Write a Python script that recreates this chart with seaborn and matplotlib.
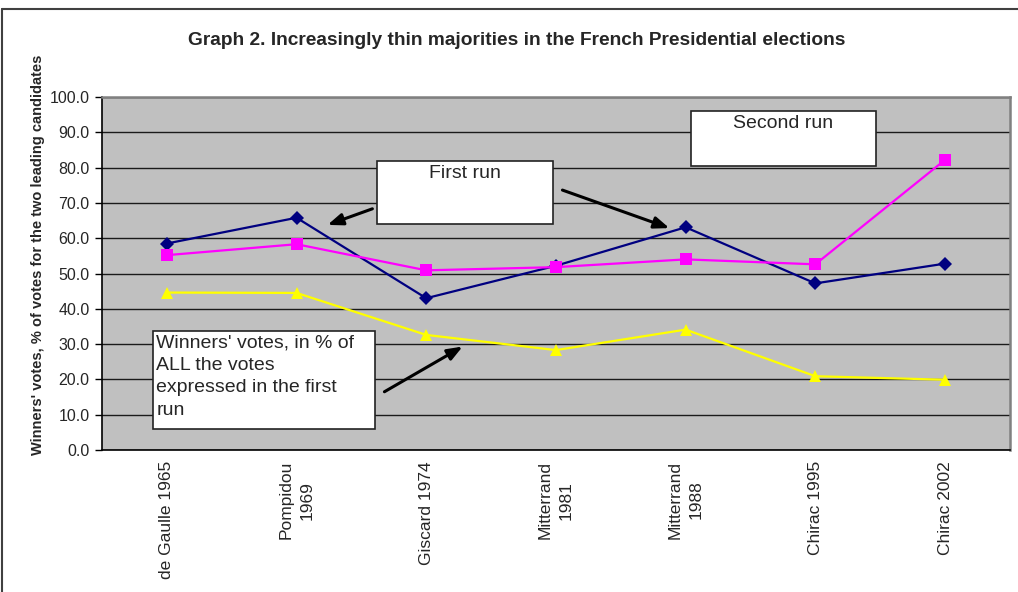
import numpy as np
import pandas as pd
import seaborn as sns
import matplotlib.pyplot as plt
from matplotlib.patches import Rectangle
from matplotlib.lines import Line2D

sns.set_style('white')
plt.rcParams['font.family'] = ['Liberation Sans', 'DejaVu Sans']

candidates = ['de Gaulle 1965', 'Pompidou\n1969', 'Giscard 1974', 'Mitterrand\n1981',
              'Mitterrand\n1988', 'Chirac 1995', 'Chirac 2002']
first_run = [58.5, 65.8, 43.0, 52.2, 63.1, 47.2, 52.8]
second_run = [55.2, 58.3, 50.9, 51.8, 54.0, 52.6, 82.2]
all_votes = [44.6, 44.5, 32.6, 28.3, 34.1, 20.9, 19.9]
yticks = np.arange(0, 101, 10)

df = pd.DataFrame({'pos': range(len(candidates)), 'first': first_run,
                   'second': second_run, 'all': all_votes})

fig = plt.figure(figsize=(10.18, 5.92), dpi=100)
ax = fig.add_axes([0.1002, 0.2399, 0.8918, 0.5962])
ax.set_facecolor('#C0C0C0')

sns.lineplot(data=df, x='pos', y='first', ax=ax, color='#000080', lw=1.6,
             marker='D', markersize=7, markeredgewidth=0)
sns.lineplot(data=df, x='pos', y='second', ax=ax, color='#FF00FF', lw=1.6,
             marker='s', markersize=8, markeredgewidth=0)
sns.lineplot(data=df, x='pos', y='all', ax=ax, color='#FFFF00', lw=1.6,
             marker='^', markersize=8.5, markeredgewidth=0)

ax.set_xlim(-0.5, len(candidates) - 0.5)
ax.set_ylim(0, 100)
ax.set_yticks(yticks)
ax.set_yticklabels([f'{v:.1f}' for v in yticks], fontsize=11.5)
ax.yaxis.grid(True, color='#1a1a1a', lw=1)
ax.set_axisbelow(True)
ax.set_xticks(range(len(candidates)))
ax.set_xticklabels(candidates, rotation=90, fontsize=12.5, va='top', ha='center',
                   multialignment='center', linespacing=1.5)
ax.set_xticks(np.arange(-0.5, len(candidates)), minor=True)
ax.tick_params(axis='x', which='major', length=0, pad=8)
ax.tick_params(axis='x', which='minor', length=5, width=1, direction='out', color='black')
ax.tick_params(axis='y', length=5, width=1, direction='out', color='black', pad=4, left=True)
ax.set_xlabel('')
ax.set_ylabel('')
for side in ['left', 'bottom']:
    ax.spines[side].set_color('black')
    ax.spines[side].set_linewidth(1.2)
for side in ['top', 'right']:
    ax.spines[side].set_color('#808080')
    ax.spines[side].set_linewidth(1.8)

# annotation boxes
box_kw = dict(facecolor='white', edgecolor='#222222', lw=1.2, zorder=5)
ax.add_patch(Rectangle((1.62, 64.0), 1.36, 17.9, **box_kw))
ax.text(2.30, 80.8, 'First run', ha='center', va='top', fontsize=14, zorder=6)
ax.add_patch(Rectangle((4.04, 80.5), 1.43, 15.5, **box_kw))
ax.text(4.75, 94.9, 'Second run', ha='center', va='top', fontsize=14, zorder=6)
ax.add_patch(Rectangle((-0.107, 5.9), 1.712, 27.8, **box_kw))
ax.text(-0.08, 32.8, "Winners' votes, in % of\nALL the votes\nexpressed in the first\nrun",
        ha='left', va='top', fontsize=14, linespacing=1.42, zorder=6)

arrow_kw = dict(arrowstyle='-|>,head_length=0.9,head_width=0.35', color='black', lw=2.2)
ax.annotate('', xy=(1.219, 63.5), xytext=(1.605, 68.6), arrowprops=arrow_kw, zorder=7)
ax.annotate('', xy=(3.895, 62.6), xytext=(3.03, 73.9), arrowprops=arrow_kw, zorder=7)
ax.annotate('', xy=(2.299, 29.7), xytext=(1.659, 16.1), arrowprops=arrow_kw, zorder=7)

fig.text(0.508, 0.932, 'Graph 2. Increasingly thin majorities in the French Presidential elections',
         ha='center', va='center', fontsize=13.8, fontweight='bold')
fig.text(0.037, 0.569, "Winners' votes, % of votes for the two leading candidates",
         rotation=90, ha='center', va='center', fontsize=10.5, fontweight='bold')

# chart frame
fig.add_artist(Line2D([0.002, 0.002], [0, 0.985], color='#404040', lw=1.5, transform=fig.transFigure))
fig.add_artist(Line2D([0.002, 1.0], [0.985, 0.985], color='#404040', lw=1.5, transform=fig.transFigure))

fig.savefig('out.png', dpi=100, facecolor='white')
